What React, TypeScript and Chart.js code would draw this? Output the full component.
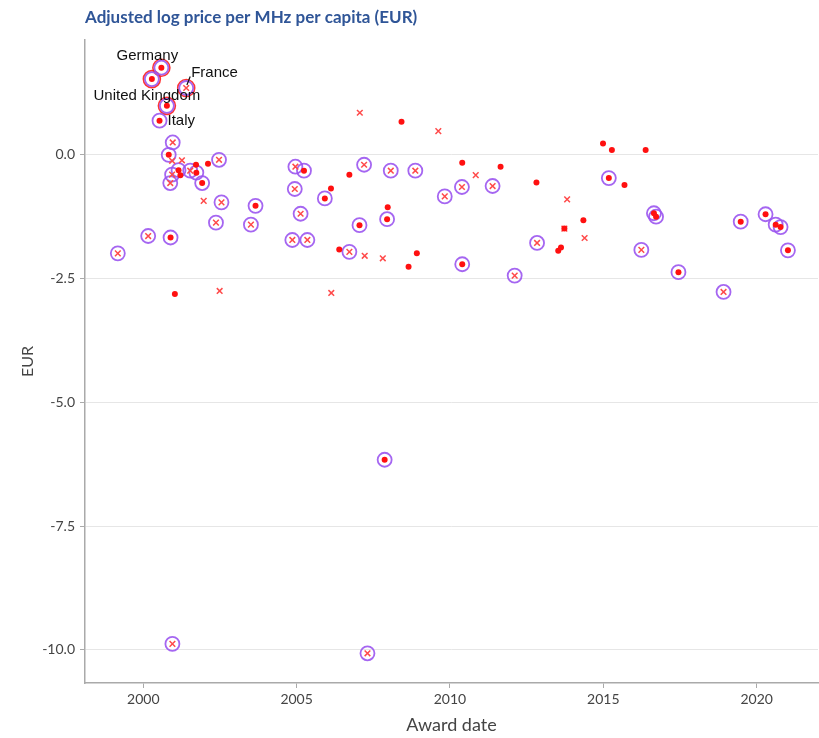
import React, { useEffect, useRef } from "react";
import { Chart, registerables } from "chart.js";

Chart.register(...registerables);

// Filled red dots
const dotYears = [
  2000.59, 2000.28, 2000.77, 2000.53, 2000.83, 2001.72, 2002.11, 2001.15, 2001.21, 2001.73,
  2001.92, 2003.66, 2000.89, 2001.03, 2005.24, 2008.42, 2006.72, 2010.40, 2011.65, 2012.82,
  2006.12, 2005.92, 2007.97, 2007.95, 2007.05, 2006.39, 2008.92, 2008.65, 2010.40, 2014.99,
  2015.28, 2016.38, 2015.18, 2015.69, 2014.35, 2013.73, 2013.53, 2013.62, 2016.65, 2016.72,
  2019.48, 2020.29, 2020.62, 2020.78, 2021.02, 2017.45, 2007.87,
];
const dotValues = [
  1.76, 1.53, 0.99, 0.69, 0.0, -0.2, -0.18, -0.31, -0.41, -0.36,
  -0.57, -1.03, -1.67, -2.81, -0.32, 0.67, -0.4, -0.16, -0.24, -0.56,
  -0.68, -0.88, -1.06, -1.3, -1.42, -1.91, -1.99, -2.26, -2.21, 0.23,
  0.1, 0.1, -0.47, -0.61, -1.32, -1.49, -1.94, -1.87, -1.18, -1.25,
  -1.35, -1.2, -1.41, -1.46, -1.93, -2.37, -6.16,
];
const dotRinged = [
  true, true, true, true, true, false, false, true, false, true,
  true, true, true, false, true, false, false, false, false, false,
  false, true, false, true, true, false, false, false, true, false,
  false, false, true, false, false, false, false, false, true, true,
  true, true, true, true, true, true, true,
];

// Red crosses
const crossYears = [
  2001.40, 2000.96, 2000.94, 2001.26, 2002.47, 2001.53, 2000.94, 2000.88, 2001.97, 2002.55,
  2002.37, 2003.51, 2000.16, 1999.17, 2002.49, 2004.96, 2004.94, 2005.13, 2004.86, 2005.35,
  2007.06, 2009.62, 2007.20, 2008.07, 2008.87, 2010.84, 2010.39, 2011.39, 2009.83, 2006.72,
  2007.22, 2007.81, 2012.11, 2012.84, 2006.13, 2013.82, 2013.73, 2014.39, 2016.24, 2018.92,
  2000.95, 2007.31,
];
const crossValues = [
  1.35, 0.25, -0.12, -0.11, -0.1, -0.32, -0.4, -0.57, -0.93, -0.96,
  -1.37, -1.41, -1.64, -1.99, -2.75, -0.24, -0.69, -1.19, -1.72, -1.72,
  0.85, 0.48, -0.2, -0.32, -0.32, -0.41, -0.65, -0.63, -0.84, -1.96,
  -2.04, -2.09, -2.44, -1.78, -2.79, -0.9, -1.49, -1.68, -1.92, -2.77,
  -9.88, -10.07,
];
const crossRinged = [
  true, true, false, false, true, true, true, true, false, true,
  true, true, true, true, false, true, true, true, true, true,
  false, false, true, true, true, false, true, true, true, true,
  false, false, true, true, false, false, false, false, true, true,
  true, true,
];

// Red highlight rings
const highlightYears = [2000.59, 2000.28, 2001.40, 2000.77];
const highlightValues = [1.76, 1.53, 1.35, 0.99];

// Country labels
const labelNames = ["Germany", "United Kingdom", "France", "Italy"];
const labelYears = [2000.59, 2000.77, 2001.40, 2000.53];
const labelValues = [1.76, 0.99, 1.35, 0.69];

const xTickValues = [2000, 2005, 2010, 2015, 2020];
const yTickValues = [0, -2.5, -5, -7.5, -10];

const TITLE = "Adjusted log price per MHz per capita (EUR)";

export default function App() {
  const canvasRef = useRef<HTMLCanvasElement | null>(null);

  useEffect(() => {
    const canvas = canvasRef.current;
    if (!canvas) return;

    const dots = dotYears.map((x, i) => ({ x, y: dotValues[i] }));
    const crosses = crossYears.map((x, i) => ({ x, y: crossValues[i] }));
    const rings = [
      ...dots.filter((_, i) => dotRinged[i]),
      ...crosses.filter((_, i) => crossRinged[i]),
    ];
    const highlights = highlightYears.map((x, i) => ({ x, y: highlightValues[i] }));

    const labelStyle = [
      { dx: -14, dy: -12, align: "center" },
      { dx: -20, dy: -10, align: "center" },
      { dx: 5, dy: -15, align: "left" },
      { dx: 8, dy: 0, align: "left" },
    ];

    const PLOT_RIGHT = 818;
    const fixArea = {
      id: "fixArea",
      afterLayout(chart: any) {
        const ca = chart.chartArea;
        ca.right = PLOT_RIGHT;
        ca.width = PLOT_RIGHT - ca.left;
        const xs = chart.scales.x;
        xs.right = PLOT_RIGHT;
        xs.width = PLOT_RIGHT - xs.left;
        xs.configure();
      },
    };

    const overlay = {
      id: "overlay",
      afterDraw(chart: any) {
        const ctx = chart.ctx;
        ctx.save();
        ctx.fillStyle = "#2f5597";
        ctx.font = "bold 17px Lato";
        ctx.textAlign = "left";
        ctx.textBaseline = "middle";
        ctx.fillText(TITLE, 85, 18);

        const xs = chart.scales.x;
        const ys = chart.scales.y;
        ctx.font = "15px 'Liberation Sans'";
        ctx.fillStyle = "#111";
        labelNames.forEach((name, i) => {
          const px = xs.getPixelForValue(labelYears[i]);
          const py = ys.getPixelForValue(labelValues[i]);
          const st = labelStyle[i];
          ctx.textAlign = st.align;
          ctx.fillText(name, px + st.dx, py + st.dy);
        });
        // France leader line
        const fx = xs.getPixelForValue(labelYears[2]);
        const fy = ys.getPixelForValue(labelValues[2]);
        ctx.strokeStyle = "#111";
        ctx.lineWidth = 1.2;
        ctx.beginPath();
        ctx.moveTo(fx + 0.7, fy - 3);
        ctx.lineTo(fx + 4, fy - 11.5);
        ctx.stroke();
        ctx.restore();
      },
    };

    const tickFont = { family: "Lato", size: 14 };

    const chart = new Chart(canvas, {
      type: "scatter",
      data: {
        datasets: [
          {
            label: "dots",
            data: dots,
            pointStyle: "circle",
            pointRadius: 3,
            pointHoverRadius: 3,
            backgroundColor: "#ff1010",
            borderColor: "#ff1010",
            borderWidth: 0,
          },
          {
            label: "crosses",
            data: crosses,
            pointStyle: "crossRot",
            pointRadius: 4,
            pointHoverRadius: 4,
            borderColor: "#ff4a4a",
            backgroundColor: "#ff4a4a",
            borderWidth: 1.5,
          },
          {
            label: "rings",
            data: rings,
            pointStyle: "circle",
            pointRadius: 7,
            pointHoverRadius: 7,
            backgroundColor: "rgba(0,0,0,0)",
            borderColor: "rgba(155, 85, 240, 0.9)",
            borderWidth: 1.8,
          },
          {
            label: "highlight",
            data: highlights,
            pointStyle: "circle",
            pointRadius: 8.5,
            pointHoverRadius: 8.5,
            backgroundColor: "rgba(0,0,0,0)",
            borderColor: "rgba(255, 30, 30, 0.9)",
            borderWidth: 1.6,
          },
        ],
      },
      options: {
        animation: false,
        responsive: false,
        events: [],
        layout: { padding: { left: 0, right: 1, top: 40, bottom: 0 } },
        plugins: {
          legend: { display: false },
          tooltip: { enabled: false },
          title: { display: false },
        },
        scales: {
          x: {
            type: "linear",
            min: 1998.1,
            max: 2022.0,
            afterBuildTicks: (s: any) => {
              s.ticks = xTickValues.map((v) => ({ value: v }));
            },
            afterFit: (s: any) => {
              s.height = 55;
              s.paddingLeft = 0;
              s.paddingRight = 0;
            },
            grid: {
              drawOnChartArea: false,
              drawTicks: true,
              tickLength: 5,
              tickColor: "#aaaaaa",
            },
            border: { color: "#aaaaaa", width: 1.5 },
            ticks: {
              font: tickFont,
              color: "#444",
              padding: 3,
              maxRotation: 0,
              callback: (v: any) => String(v),
            },
            title: {
              display: true,
              text: "Award date",
              font: { family: "Lato", size: 18 },
              color: "#444",
              padding: { top: 0, bottom: 2 },
            },
          },
          y: {
            type: "linear",
            min: -10.67,
            max: 2.32,
            afterBuildTicks: (s: any) => {
              s.ticks = yTickValues.map((v) => ({ value: v }));
            },
            afterFit: (s: any) => {
              s.width = 85;
              s.paddingTop = 0;
              s.paddingBottom = 0;
            },
            grid: {
              color: "#e6e6e6",
              lineWidth: 1,
              tickColor: "#aaaaaa",
              tickLength: 5,
            },
            border: { color: "#aaaaaa", width: 1.5 },
            ticks: {
              font: tickFont,
              color: "#444",
              padding: 5,
              callback: (v: any) => Number(v).toFixed(1),
            },
            title: {
              display: true,
              text: "EUR",
              font: { family: "Lato", size: 16 },
              color: "#444",
              padding: { top: 18, bottom: 0 },
            },
          },
        },
      },
      plugins: [fixArea, overlay],
    } as any);

    return () => chart.destroy();
  }, []);

  return (
    <div style={{ position: "absolute", left: 0, top: 0, width: 819, height: 738, background: "#fff" }}>
      <canvas ref={canvasRef} width={819} height={738} style={{ display: "block" }} />
    </div>
  );
}
